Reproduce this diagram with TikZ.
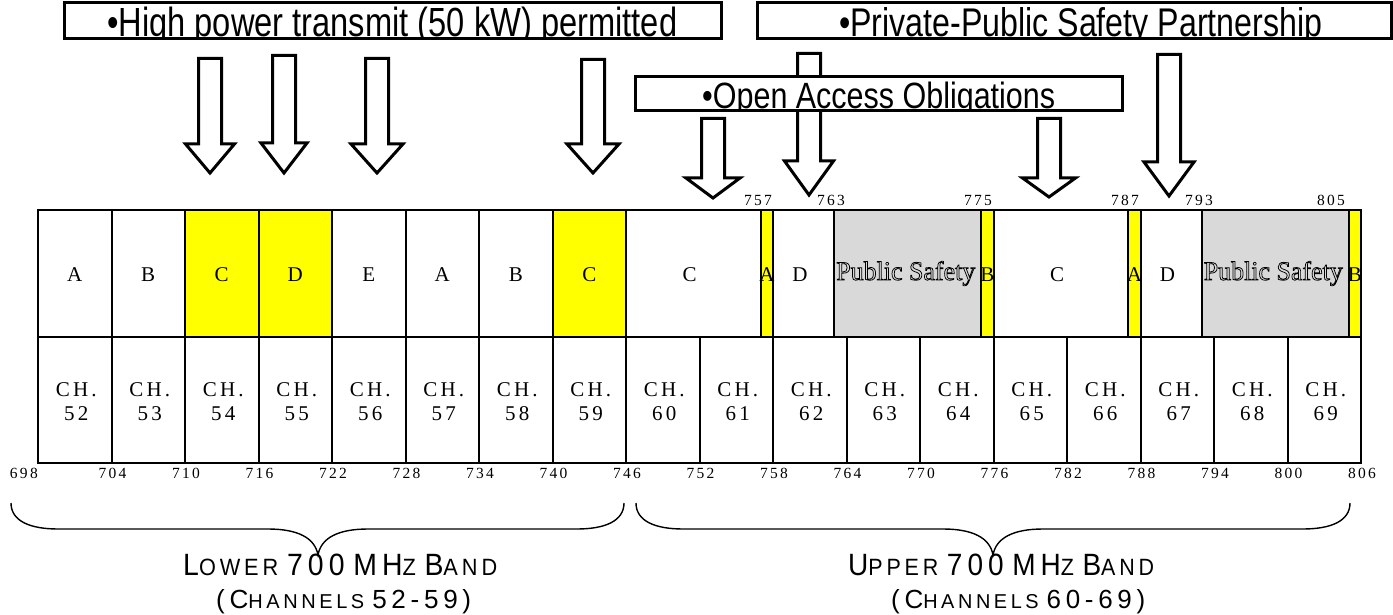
\documentclass[tikz,border=0pt]{standalone}
\usepackage{fontspec}
\usepackage{graphicx}
\usepackage{xcolor}
\setmainfont{Liberation Serif}
\newfontfamily\sansf{Liberation Sans}
\newfontfamily\bandf[LetterSpace=18]{Liberation Sans}
\newfontfamily\spserif[LetterSpace=15]{Liberation Serif}
\definecolor{bandyellow}{HTML}{FFFF00}
\definecolor{psgray}{HTML}{D9D9D9}
\newcommand{\fs}[1]{\fontsize{#1pt}{#1pt}\selectfont}
\newcommand{\BC}[1]{{\fs{23}#1}}
\newcommand{\SC}[1]{{\fs{17.6}#1}}
\newcommand{\wsp}{\hspace{7pt}}
\newcommand{\pstext}{\resizebox{139pt}{18.8pt}{\fs{21}\color{psgray}\special{pdf:literal direct 2 Tr 0.6 w 0 G}Public Safety\special{pdf:literal direct 0 Tr}}}
\newcommand{\blockarr}[6]{%
  \draw[blockarrow] ({#1-#5},#2) -- ({#1+#5},#2) -- ({#1+#5},#3) -- ({#1+#6},#3) -- (#1,#4) -- ({#1-#6},#3) -- ({#1-#5},#3) -- cycle;}
\tikzset{
  declare function={fx(\f)=38+(\f-698)*12.25;},
  gridline/.style={line width=2pt},
  blockarrow/.style={draw=black,fill=white,line width=3pt,line join=miter},
  bannerbox/.style={draw=black,line width=3pt},
  bracepath/.style={line width=1.4pt},
  celltext/.style={inner sep=0pt,anchor=base,font=\fs{21}},
  chtext/.style={inner sep=0pt,anchor=base,font=\spserif\fs{21}},
  freqtext/.style={inner sep=0pt,anchor=base,font=\spserif\fs{15.5}},
  plain/.style={inner sep=0pt,anchor=base west}
}
\begin{document}
\begin{tikzpicture}[x=1pt,y=-1pt]
\useasboundingbox (0,0) rectangle (1393,615);
\fill[white] (0,0) rectangle (1393,615);
% ---- fills of the upper row
\foreach \a/\b in {710/722,740/746,757/758,775/776,787/788,805/806}
  \fill[bandyellow] ({fx(\a)},210) rectangle ({fx(\b)},337);
\foreach \a/\b in {763/775,793/805}
  \fill[psgray] ({fx(\a)},210) rectangle ({fx(\b)},337);
% ---- upper row texts
\foreach \f/\t [count=\i] in {701/A,707/B,713/C,719/D,725/E,731/A,737/B,743/C,751.2/C,757.5/A,760.2/D,775.5/B,781.2/C,787.5/A,790.2/D,805.5/B}
  \node[celltext] (blk\i) at ({fx(\f)},281) {\t};
\node[plain,anchor=base] (ps1) at ({fx(769)-2},280) {\pstext};
\node[plain,anchor=base] (ps2) at ({fx(799)-2},280) {\pstext};
% ---- channel texts
\foreach \n in {52,...,69} {
  \node[chtext] (chA\n) at ({38+(\n-52)*73.5+36.75+1.5},396) {CH.};
  \node[chtext] (chB\n) at ({38+(\n-52)*73.5+36.75+1.5},420) {\n};
}
% ---- grid lines
\draw[gridline] (38,210) rectangle (1361,462.5);
\draw[gridline] (38,337) -- (1361,337);
\foreach \f in {704,710,...,800}
  \draw[gridline] ({fx(\f)},337) -- ({fx(\f)},462.5);
\foreach \f in {704,710,...,746,757,758,763,775,776,787,788,793,805}
  \draw[gridline] ({fx(\f)},210) -- ({fx(\f)},337);
% ---- frequency labels
\node[freqtext,anchor=base east] (f698) at (38,478) {698};
\foreach \f in {704,710,...,806}
  \node[freqtext] (f\f) at ({fx(\f)+1},478) {\f};
\foreach \f/\x in {757/758,763/831,775/978,787/1125,793/1199,805/1331}
  \node[freqtext] (t\f) at (\x,205) {\f};
% ---- top banners
\fill[white] (64,3) rectangle (721,39);
\begin{scope}
  \clip (64,3) rectangle (721,38);
  \node[plain] (hp) at (107,37) {\resizebox{570pt}{29.5pt}{\sansf\fs{32}•High power transmit (50 kW) permitted}};
\end{scope}
\draw[bannerbox] (64,3) rectangle (721,39);
\fill[white] (757,3) rectangle (1391,39);
\begin{scope}
  \clip (757,3) rectangle (1391,38);
  \node[plain] (pp) at (839,36.5) {\resizebox{483pt}{29pt}{\sansf\fs{32}•Private-Public Safety Partnership}};
\end{scope}
\draw[bannerbox] (757,3) rectangle (1391,39);
% ---- arrows behind open access box
\blockarr{210}{58.5}{144}{173}{11.5}{24.5}
\blockarr{284}{55.5}{143}{173}{11.5}{23}
\blockarr{377}{58.5}{144}{173}{11.5}{26}
\blockarr{593}{59.5}{144}{173}{11.5}{26}
\blockarr{809}{53.5}{161}{195}{11.5}{24.5}
\blockarr{1169}{54.5}{162}{196}{11.5}{25}
% ---- open access banner
\fill[white] (635,77) rectangle (1122,111);
\begin{scope}
  \clip (635,77) rectangle (1122,110);
  \node[plain] (oa) at (702,108.5) {\resizebox{353pt}{26.5pt}{\sansf\fs{30}•Open Access Obligations}};
\end{scope}
\draw[bannerbox] (635,77) rectangle (1122,111);
\blockarr{713}{118.5}{178}{198}{11.5}{27}
\blockarr{1049}{118.5}{178}{197}{11.5}{26.5}
% ---- braces
\draw[bracepath] (11,503) .. controls (11,521) and (30,529) .. (58,529) -- (268,529)
  .. controls (298,529) and (315,538) .. (318,555)
  .. controls (321,538) and (338,529) .. (368,529) -- (577,529)
  .. controls (605,529) and (624,521) .. (624,503);
\draw[bracepath] (636,503) .. controls (636,521) and (655,529) .. (683,529) -- (943,529)
  .. controls (973,529) and (990,538) .. (993,555)
  .. controls (996,538) and (1013,529) .. (1043,529) -- (1303,529)
  .. controls (1331,529) and (1350,521) .. (1350,503);
% ---- band labels
\node[plain] (low1) at (183,575) {\resizebox{314pt}{21.5pt}{\bandf\BC{L}\SC{OWER}\wsp\BC{700}\wsp\BC{MH}\SC{Z}\wsp\BC{B}\SC{AND}}};
\node[plain] (low2) at (216,608) {\resizebox{255pt}{19pt}{\bandf\BC{(C}\SC{HANNELS}\wsp\BC{52-59)}}};
\node[plain] (up1) at (848,575) {\resizebox{306pt}{21.5pt}{\bandf\BC{U}\SC{PPER}\wsp\BC{700}\wsp\BC{MH}\SC{Z}\wsp\BC{B}\SC{AND}}};
\node[plain] (up2) at (891,608) {\resizebox{254pt}{19pt}{\bandf\BC{(C}\SC{HANNELS}\wsp\BC{60-69)}}};
\end{tikzpicture}
\end{document}
